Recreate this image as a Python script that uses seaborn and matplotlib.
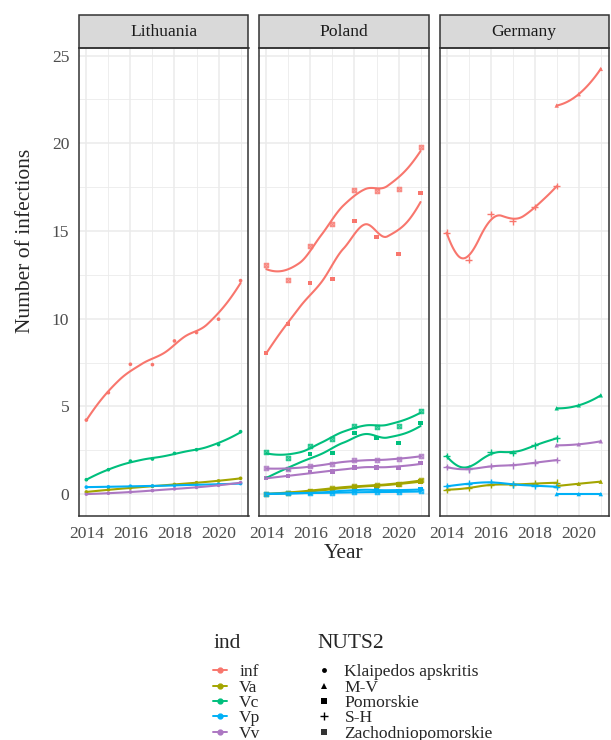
import numpy as np
import pandas as pd
import matplotlib
matplotlib.use("Agg")
import matplotlib.pyplot as plt
import seaborn as sns
from matplotlib.lines import Line2D
from matplotlib.patches import Rectangle
from matplotlib.path import Path
from matplotlib.colors import to_rgba
from matplotlib.ticker import MultipleLocator

# ---------------- data ----------------
countries = ["Lithuania", "Poland", "Germany"]
indicators = ["inf", "Va", "Vc", "Vp", "Vv"]
regions = ["Klaipedos apskritis", "M-V", "Pomorskie", "S-H", "Zachodniopomorskie"]

years_full = [2014, 2015, 2016, 2017, 2018, 2019, 2020, 2021]
years_sh = [2014, 2015, 2016, 2017, 2018, 2019]
years_mv = [2019, 2020, 2021]

klaipedos_inf = [4.22, 5.78, 7.40, 7.38, 8.73, 9.21, 9.97, 12.17]
klaipedos_Va = [0.12, 0.25, 0.35, 0.45, 0.55, 0.65, 0.75, 0.90]
klaipedos_Vc = [0.82, 1.39, 1.88, 2.00, 2.32, 2.53, 2.82, 3.56]
klaipedos_Vp = [0.40, 0.41, 0.45, 0.46, 0.50, 0.53, 0.56, 0.60]
klaipedos_Vv = [0.00, 0.05, 0.12, 0.20, 0.30, 0.38, 0.50, 0.65]

pomorskie_inf = [8.04, 9.70, 12.02, 12.27, 15.57, 14.66, 13.69, 17.17]
pomorskie_Va = [0.00, 0.05, 0.15, 0.28, 0.40, 0.48, 0.55, 0.72]
pomorskie_Vc = [0.93, 1.45, 2.28, 2.34, 3.48, 3.19, 2.91, 4.05]
pomorskie_Vp = [0.00, 0.05, 0.08, 0.12, 0.25, 0.22, 0.18, 0.28]
pomorskie_Vv = [0.91, 1.01, 1.24, 1.29, 1.52, 1.52, 1.50, 1.75]

zach_inf = [13.04, 12.19, 14.13, 15.42, 17.32, 17.25, 17.42, 19.80]
zach_Va = [0.02, 0.08, 0.20, 0.33, 0.45, 0.50, 0.60, 0.78]
zach_Vc = [2.40, 2.04, 2.72, 3.16, 3.90, 3.84, 3.88, 4.73]
zach_Vp = [0.02, 0.04, 0.06, 0.08, 0.10, 0.12, 0.12, 0.15]
zach_Vv = [1.47, 1.43, 1.58, 1.73, 1.92, 1.92, 1.98, 2.17]

sh_inf = [14.91, 13.37, 15.97, 15.54, 16.37, 17.55]
sh_Va = [0.25, 0.34, 0.54, 0.54, 0.60, 0.65]
sh_Vc = [2.17, 1.47, 2.40, 2.34, 2.78, 3.18]
sh_Vp = [0.44, 0.59, 0.68, 0.55, 0.48, 0.42]
sh_Vv = [1.54, 1.41, 1.60, 1.64, 1.79, 1.94]

mv_inf = [22.15, 22.80, 24.24]
mv_Va = [0.46, 0.59, 0.71]
mv_Vc = [4.89, 5.06, 5.63]
mv_Vp = [0.00, 0.00, 0.00]
mv_Vv = [2.78, 2.84, 3.01]

x_ticks = [2014, 2016, 2018, 2020]
y_ticks = [0, 5, 10, 15, 20, 25]

region_table = [
    ("Lithuania", "Klaipedos apskritis", years_full,
     [klaipedos_inf, klaipedos_Va, klaipedos_Vc, klaipedos_Vp, klaipedos_Vv]),
    ("Poland", "Pomorskie", years_full,
     [pomorskie_inf, pomorskie_Va, pomorskie_Vc, pomorskie_Vp, pomorskie_Vv]),
    ("Poland", "Zachodniopomorskie", years_full,
     [zach_inf, zach_Va, zach_Vc, zach_Vp, zach_Vv]),
    ("Germany", "S-H", years_sh, [sh_inf, sh_Va, sh_Vc, sh_Vp, sh_Vv]),
    ("Germany", "M-V", years_mv, [mv_inf, mv_Va, mv_Vc, mv_Vp, mv_Vv]),
]

rows = []
for country, reg, yrs, series in region_table:
    for ind, vals in zip(indicators, series):
        for yr, v in zip(yrs, vals):
            rows.append(dict(country=country, NUTS2=reg, ind=ind, Year=yr, value=v))
df = pd.DataFrame(rows)


# ---------------- loess smoothing (like geom_smooth default) ----------------
def local_fit(x, y, x0, span=0.75, degree=2):
    n = len(x)
    q = int(np.floor(n * span))
    d = np.abs(x - x0)
    if q < degree + 1:
        h = d.max() * 1.5 + 1e-9
    else:
        h = np.sort(d)[q - 1] * 1.0001 + 1e-9
    u = np.clip(d / h, 0, 1)
    w = (1 - u ** 3) ** 3
    X = np.vstack([(x - x0) ** k for k in range(degree + 1)]).T
    sw = np.sqrt(w)
    beta, *_ = np.linalg.lstsq(X * sw[:, None], y * sw, rcond=None)
    return beta[0], beta[1]


def loess(x, y, xs, span=0.75, degree=2):
    # vertex fits + cubic Hermite interpolation (loess surface="interpolate")
    x = np.asarray(x, float)
    y = np.asarray(y, float)
    xv = np.sort(np.unique(np.concatenate([[x.min(), x.max()],
                                           (x[:-1] + x[1:]) / 2])))
    fv = np.array([local_fit(x, y, v, span, degree) for v in xv])
    out = []
    for t in xs:
        k = np.searchsorted(xv, t) - 1
        k = min(max(k, 0), len(xv) - 2)
        x0, x1 = xv[k], xv[k + 1]
        hh = x1 - x0
        s = (t - x0) / hh
        h00 = 2 * s ** 3 - 3 * s ** 2 + 1
        h10 = s ** 3 - 2 * s ** 2 + s
        h01 = -2 * s ** 3 + 3 * s ** 2
        h11 = s ** 3 - s ** 2
        out.append(h00 * fv[k, 0] + h10 * hh * fv[k, 1] +
                   h01 * fv[k + 1, 0] + h11 * hh * fv[k + 1, 1])
    return np.array(out)


smooth_rows = []
for (country, reg, ind), g in df.groupby(["country", "NUTS2", "ind"]):
    xs = np.linspace(g["Year"].min(), g["Year"].max(), 120)
    ys = loess(g["Year"].values, g["value"].values, xs)
    for a, b in zip(xs, ys):
        smooth_rows.append(dict(country=country, NUTS2=reg, ind=ind, Year=a, value=b))
sm = pd.DataFrame(smooth_rows)

# ---------------- style ----------------
palette = {"inf": "#F8766D", "Va": "#A3A500", "Vc": "#00BF7D",
           "Vp": "#00B0F6", "Vv": "#AC77C2"}

sq = [(-1, -1), (1, -1), (1, 1), (-1, 1), (-1, -1)]
boxx_path = Path(sq + [(-1, -1), (1, 1), (-1, 1), (1, -1)],
                 [Path.MOVETO, Path.LINETO, Path.LINETO, Path.LINETO, Path.CLOSEPOLY,
                  Path.MOVETO, Path.LINETO, Path.MOVETO, Path.LINETO])
region_markers = {"Klaipedos apskritis": ("o", 7), "M-V": ("^", 10),
                  "Pomorskie": ("s", 9), "S-H": ("+", 22),
                  "Zachodniopomorskie": (boxx_path, 10)}

sns.set_theme(style="white")
plt.rcParams["font.family"] = ["Liberation Serif", "DejaVu Serif"]

W, H = 611, 740
fig = plt.figure(figsize=(W / 100, H / 100), dpi=100)

panel_left = [79.3, 259.3, 439.5]
panel_w = 169.2
panel_top, panel_bot = 48.0, 515.5
strip_h = 33.0

for i, country in enumerate(countries):
    ax = fig.add_axes([panel_left[i] / W, 1 - panel_bot / H, panel_w / W,
                       (panel_bot - panel_top) / H])
    ax.set_facecolor("white")
    ax.set_xlim(2013.68, 2021.36)
    ax.set_ylim(-1.22, 25.43)
    ax.xaxis.set_major_locator(MultipleLocator(2))
    ax.xaxis.set_minor_locator(MultipleLocator(1))
    ax.yaxis.set_major_locator(MultipleLocator(5))
    ax.yaxis.set_minor_locator(MultipleLocator(2.5))
    ax.set_xticks(x_ticks)
    ax.set_yticks(y_ticks)
    ax.grid(which="major", color="#EBEBEB", lw=1.1)
    ax.grid(which="minor", color="#EBEBEB", lw=0.6)
    ax.set_axisbelow(True)
    for s in ax.spines.values():
        s.set_color("#333333")
        s.set_linewidth(1.1)
    ax.tick_params(which="major", length=4.2, width=1.1, color="#333333",
                   labelsize=12.6, labelcolor="#4D4D4D", pad=3)
    ax.tick_params(which="minor", length=0)
    if i > 0:
        ax.tick_params(axis="y", labelleft=False, length=0)

    sub = sm[sm["country"] == country]
    sns.lineplot(data=sub, x="Year", y="value", hue="ind", units="NUTS2",
                 estimator=None, palette=palette, hue_order=indicators,
                 legend=False, ax=ax, lw=1.5, sort=True)
    pts = df[df["country"] == country]
    for reg in regions:
        r = pts[pts["NUTS2"] == reg]
        if r.empty:
            continue
        mk, sz = region_markers[reg]
        if reg == "Zachodniopomorskie":
            for ind in indicators:
                ri = r[r["ind"] == ind]
                c = palette[ind]
                sns.scatterplot(data=ri, x="Year", y="value", marker=mk, s=sz,
                                legend=False, ax=ax, linewidth=0.8,
                                edgecolor=to_rgba(c, 0.8),
                                facecolor=to_rgba(c, 0.35))
        elif mk == "+":
            sns.scatterplot(data=r, x="Year", y="value", hue="ind", palette=palette,
                            hue_order=indicators, marker=mk, s=sz, legend=False,
                            ax=ax, linewidth=1.0)
        else:
            sns.scatterplot(data=r, x="Year", y="value", hue="ind", palette=palette,
                            hue_order=indicators, marker=mk, s=sz, legend=False,
                            ax=ax, linewidth=0)
    ax.set_xlabel("")
    ax.set_ylabel("")

    ax.add_patch(Rectangle((0, 1), 1, strip_h / (panel_bot - panel_top),
                           transform=ax.transAxes, facecolor="#D9D9D9",
                           edgecolor="#333333", lw=1.1, clip_on=False))
    ax.text(0.5, 1 + strip_h / 2 / (panel_bot - panel_top), country,
            transform=ax.transAxes, ha="center", va="center",
            fontsize=12.6, color="#1A1A1A")

fig.text(343.5 / W, 1 - 553 / H, "Year", ha="center", va="center", fontsize=15.5)
fig.text(25 / W, 1 - 241 / H, "Number of infections", ha="center", va="center",
         rotation=90, fontsize=15.5)

# ---------------- legends ----------------
fig.text(213 / W, 1 - 644 / H, "ind", ha="left", va="center", fontsize=15.5)
fig.text(317 / W, 1 - 644 / H, "NUTS2", ha="left", va="center", fontsize=15.5)

ind_handles = [Line2D([0], [0], color=palette[k], lw=1.4, marker="o", ms=3.5)
               for k in indicators]
leg1 = fig.legend(ind_handles, indicators, loc="upper left",
                  bbox_to_anchor=(213 / W, 1 - 664 / H), frameon=False,
                  fontsize=12.6, handlelength=0.8, handletextpad=0.7,
                  labelspacing=-0.05, borderpad=0, borderaxespad=0)

reg_handles = []
for reg in regions:
    mk, sz = region_markers[reg]
    if reg == "Zachodniopomorskie":
        h = Line2D([0], [0], ls="none", marker="s", ms=4.5, color="#333333", mew=0)
    elif mk == "+":
        h = Line2D([0], [0], ls="none", marker="+", ms=5.5, color="black", mew=1.0)
    else:
        h = Line2D([0], [0], ls="none", marker=mk, ms=3.5 if mk == "o" else 4.5,
                   color="black", mew=0)
    reg_handles.append(h)
leg2 = fig.legend(reg_handles, regions, loc="upper left",
                  bbox_to_anchor=(319 / W, 1 - 664 / H), frameon=False,
                  fontsize=12.6, handlelength=0.6, handletextpad=0.85,
                  labelspacing=-0.05, borderpad=0, borderaxespad=0)

fig.savefig("out.png", dpi=100)
